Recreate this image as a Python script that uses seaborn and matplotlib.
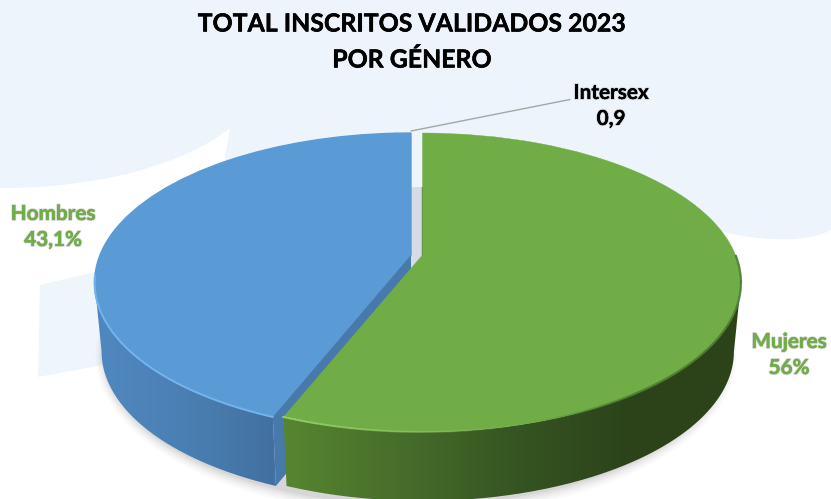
import numpy as np
import matplotlib
matplotlib.use('Agg')
import matplotlib.pyplot as plt
import matplotlib.patheffects as pe
from matplotlib.path import Path
from matplotlib.patches import PathPatch
from matplotlib.transforms import Transform
import seaborn as sns

# data
categories = ['Mujeres', 'Hombres', 'Intersex']
sizes = [56, 43.1, 0.9]
value_labels = ['56%', '43,1%', '0,9']
title_lines = ['TOTAL INSCRITOS VALIDADOS 2023', 'POR GÉNERO']

sns.set_theme(style='white')
plt.rcParams['font.family'] = ['Lato', 'DejaVu Sans']

GREEN = '#70AD47'
BLUE = '#5B9BD5'
PALE = '#EDF4FC'
DEPTH = 69
SHRINK = 0.978
FRONT = (-169.4, -10.6)  # part of the rim that faces the viewer


class Tilt(Transform):
    # unit circle of the pie -> tilted disc in pixels
    input_dims = 2
    output_dims = 2

    def __init__(self, cx, cy, a, b, k):
        super().__init__()
        self.cx, self.cy, self.a, self.b, self.k = cx, cy, a, b, k

    def transform_non_affine(self, values):
        values = np.asarray(values)
        w = 1 + self.k * values[:, 1]
        return np.column_stack([self.cx + self.a * values[:, 0] / w,
                                self.cy - self.b * values[:, 1] / w])


def rim(tilt, theta):
    t = np.radians(theta)
    return tilt.transform_non_affine(np.column_stack([np.cos(t), np.sin(t)]))


def lower(tilt, pts):
    return np.column_stack([tilt.cx + SHRINK * (pts[:, 0] - tilt.cx), pts[:, 1] + DEPTH])


fig = plt.figure(figsize=(8.31, 4.99), dpi=100, facecolor='white')
ax = fig.add_axes([0, 0, 1, 1])

wedges, _ = ax.pie(sizes, startangle=90, counterclock=False, colors=[GREEN, BLUE, BLUE],
                   wedgeprops={'linewidth': 0.3})
ax.set_aspect('auto')
ax.set_xlim(0, 831)
ax.set_ylim(499, 0)
ax.axis('off')

# background shapes
verts = [(0, 0), (831, 0), (831, 230), (805, 243), (768, 241), (726, 233), (700, 225),
         (222, 175), (230, 128), (190, 160), (110, 188), (0, 188), (0, 0)]
codes = [Path.MOVETO, Path.LINETO, Path.LINETO, Path.CURVE4, Path.CURVE4, Path.CURVE4, Path.LINETO,
         Path.LINETO, Path.LINETO, Path.CURVE4, Path.CURVE4, Path.CURVE4, Path.CLOSEPOLY]
ax.add_patch(PathPatch(Path(verts, codes), fc=PALE, ec='none', zorder=0))
ax.fill([40, 95, 103, 38], [285, 272, 365, 377], color='#EEF5FB', lw=0, zorder=0.1)

tilts = [Tilt(422.5, 255, 313, 144.4, 0.184), Tilt(411, 255, 311, 144.4, 0.184), Tilt(411, 255, 311, 144.4, 0.184)]
green_wall = sns.blend_palette(['#568530', '#476d2b', '#365522', '#2c431a', '#2c431a'], as_cmap=True)
blue_wall = sns.blend_palette(['#4f88c0', '#4a7fb3', '#42709f'], as_cmap=True)
wall_maps = [green_wall, blue_wall, blue_wall]
x_span = [(287, 741), (96, 277), (96, 277)]
z_base = [10, 4, 4]

# soft shadow on the floor
for grow, alpha in zip([10, 8, 6, 4, 2], [0.02, 0.025, 0.03, 0.04, 0.05]):
    t = Tilt(416, 255, 312 + grow, 144.4 + grow, 0.184)
    low = lower(t, rim(t, np.linspace(0, 360, 240)))
    ax.fill(low[:, 0], low[:, 1] + 2, color='black', alpha=alpha, lw=0, zorder=1)

# gap between the two slices
ax.fill([411, 422, 422, 411], [187, 187, 270, 270], color='#D5DCE6', lw=0, zorder=2)

for wedge, tilt, cmap, span, z in zip(wedges, tilts, wall_maps, x_span, z_base):
    wedge.set_transform(tilt + ax.transData)
    wedge.set_clip_on(False)
    wedge.set_zorder(z + 1)
    wedge.set_edgecolor(wedge.get_facecolor())
    # outer wall: gradient clipped to the band between the two rims
    lo, hi = max(wedge.theta1, FRONT[0]), min(wedge.theta2, FRONT[1])
    if lo >= hi:
        continue
    top = rim(tilt, np.linspace(lo, hi, 200))
    band = np.vstack([top, lower(tilt, top)[::-1]])
    xs = np.linspace(band[:, 0].min(), band[:, 0].max(), 300)
    shade = np.clip((xs - span[0]) / (span[1] - span[0]), 0, 1)[None, :]
    im = ax.imshow(shade, cmap=cmap, vmin=0, vmax=1, aspect='auto', interpolation='bilinear', zorder=z,
                   extent=[xs[0], xs[-1], band[:, 1].max(), band[:, 1].min()])
    im.set_clip_path(PathPatch(Path(band, closed=False), transform=ax.transData))

# thin slice shares the blue colour, stroke hides the seam between them
wedges[1].set_linewidth(1)
wedges[2].set_linewidth(1)

ax.set_xlim(0, 831)
ax.set_ylim(499, 0)

green_tilt, blue_tilt = tilts[0], tilts[1]

# flat cut face of the blue slice
blue_edge = rim(blue_tilt, [wedges[0].theta1])[0]
apex = np.array([blue_tilt.cx, blue_tilt.cy])
face = np.array([apex, blue_edge, [blue_tilt.cx + SHRINK * (blue_edge[0] - blue_tilt.cx), blue_edge[1] + DEPTH], [apex[0], apex[1] + DEPTH]])
ax.fill(face[:, 0], face[:, 1], color='#4779AB', lw=0, zorder=6)

# dark edge down the green slice
ax.plot([422, 422], [187, 256], color='#4F6F35', lw=1, zorder=9)

# light rim on the front edges
blue_rim = rim(blue_tilt, np.linspace(wedges[0].theta1, -172, 70))
ax.plot(blue_rim[:, 0], blue_rim[:, 1], color='#74B3EC', lw=1.4, zorder=7)
green_rim = rim(green_tilt, np.linspace(wedges[0].theta1 - 0.2, 0, 130))
for i in range(len(green_rim) - 1):
    seg = green_rim[i:i + 2]
    fade = 1 - (seg[0, 0] - 287) / 240
    if fade > 0:
        ax.plot(seg[:, 0], seg[:, 1], color='#95D066', alpha=float(min(fade, 1)), lw=1.4, zorder=12, solid_capstyle='butt')
    else:
        ax.plot(seg[:, 0], seg[:, 1], color='#4A7A2F', alpha=min(float(-fade * 2), 0.9), lw=1.6, zorder=12, solid_capstyle='butt')

# text
title_y = [24, 60]
for line, y in zip(title_lines, title_y):
    ax.text(412, y, line, ha='center', va='center', fontsize=17.9, fontweight='bold', color='black', zorder=20,
            path_effects=[pe.withStroke(linewidth=0.6, foreground='#33333366'), pe.Normal()])

label_pos = {'Mujeres': (789, 342, 368), 'Hombres': (53, 214, 240), 'Intersex': (611, 93, 119)}
label_col = {'Mujeres': GREEN, 'Hombres': GREEN, 'Intersex': 'black'}
for name, val in zip(categories, value_labels):
    x, y1, y2 = label_pos[name]
    ax.text(x, y1, name, ha='center', va='center', fontsize=14.9, fontweight='bold', color=label_col[name],
            path_effects=[pe.withStroke(linewidth=1.4, foreground='#99999966'), pe.Normal()], zorder=20)
    ax.text(x, y2, val, ha='center', va='center', fontsize=14.9, fontweight='bold', color=label_col[name],
            path_effects=[pe.withStroke(linewidth=1.4, foreground='#99999966'), pe.Normal()], zorder=20)

# leader line for the thin slice
ax.plot([411, 570], [131, 99.5], color='#A6A6A6', lw=1, zorder=15)

fig.savefig('out.png', dpi=100, facecolor='white')
